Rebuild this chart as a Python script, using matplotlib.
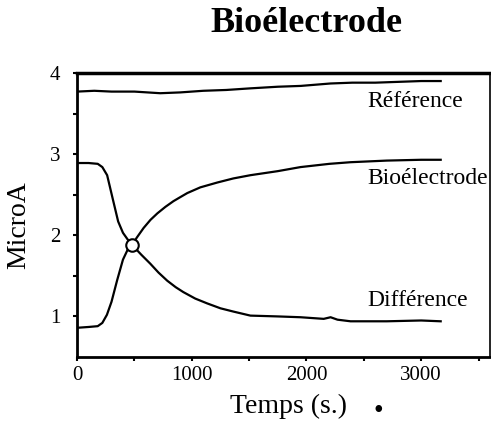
import numpy as np
import matplotlib.pyplot as plt

plt.rcParams['font.family'] = ['Liberation Serif', 'DejaVu Serif']

# temps (s.) et courant (MicroA)
t_ref = [0, 150, 300, 500, 725, 900, 1100, 1300, 1511, 1750, 1950, 2210, 2400, 2600, 2800, 3000, 3170]
reference = [3.77, 3.78, 3.77, 3.77, 3.75, 3.76, 3.78, 3.79, 3.81, 3.83, 3.84, 3.87, 3.88, 3.88, 3.89, 3.90, 3.90]

t_bio = [0, 100, 180, 220, 260, 300, 350, 400, 440, 480, 520, 580, 640, 700, 770, 840, 900, 961,
         1074, 1223, 1362, 1511, 1750, 1948, 2200, 2384, 2700, 3000, 3170]
bioelectrode = [0.86, 0.87, 0.88, 0.92, 1.02, 1.18, 1.45, 1.70, 1.82, 1.88, 1.97, 2.09, 2.19, 2.27, 2.35, 2.42,
                2.47, 2.52, 2.59, 2.65, 2.70, 2.74, 2.79, 2.84, 2.88, 2.90, 2.92, 2.93, 2.93]

t_diff = [0, 100, 180, 220, 262, 314, 358, 400, 440, 480, 560, 638, 710, 786, 860, 926, 1030, 1135, 1250,
          1362, 1511, 1750, 1948, 2150, 2210, 2270, 2384, 2700, 3000, 3170]
difference = [2.89, 2.89, 2.88, 2.84, 2.74, 2.43, 2.17, 2.03, 1.95, 1.88, 1.76, 1.65, 1.54, 1.44, 1.36, 1.30,
              1.22, 1.16, 1.10, 1.06, 1.01, 1.00, 0.99, 0.97, 0.99, 0.96, 0.94, 0.94, 0.95, 0.94]

cross_t, cross_v = 480, 1.88

fig = plt.figure(figsize=(4.91, 4.24), dpi=100)
ax = fig.add_axes([0.157, 0.158, 0.841, 0.670])

ax.plot(t_ref, reference, color="black", lw=1.6)
ax.plot(t_bio, bioelectrode, color="black", lw=1.6)
ax.plot(t_diff, difference, color="black", lw=1.6)
ax.plot([cross_t], [cross_v], "o", mfc="white", mec="black", ms=9, mew=1.5)

ax.text(2533, 3.65, "Référence", fontsize=17, va="center")
ax.text(2533, 2.70, "Bioélectrode", fontsize=17, va="center")
ax.text(2533, 1.20, "Différence", fontsize=17, va="center")

ax.set_xlim(0, 3600)
ax.set_ylim(0.5, 4)
ax.set_xticks([0, 1000, 2000, 3000])
ax.set_xticks([500, 1500, 2500, 3500], minor=True)
ax.set_yticks([1, 2, 3, 4])
ax.set_yticks([1.5, 2.5, 3.5], minor=True)
ax.tick_params(which="both", direction="out", length=3, width=1.5, labelsize=15)
ax.tick_params(axis="y", pad=9)

for side in ["left", "bottom"]:
    ax.spines[side].set_linewidth(2)
ax.spines["top"].set_linewidth(2.5)
ax.spines["right"].set_linewidth(1.2)

fig.text(0.587, 0.026, "Temps (s.)", fontsize=20, ha="center", va="baseline")
fig.text(0.039, 0.469, "MicroA", fontsize=20, rotation=90, ha="center", va="center")
fig.text(0.625, 0.925, "Bioélectrode", fontsize=26, fontweight="bold", ha="center", va="baseline")
fig.text(0.77, 0.03, "•", fontsize=20, ha="center", va="center")

fig.savefig("out.png", dpi=100)
